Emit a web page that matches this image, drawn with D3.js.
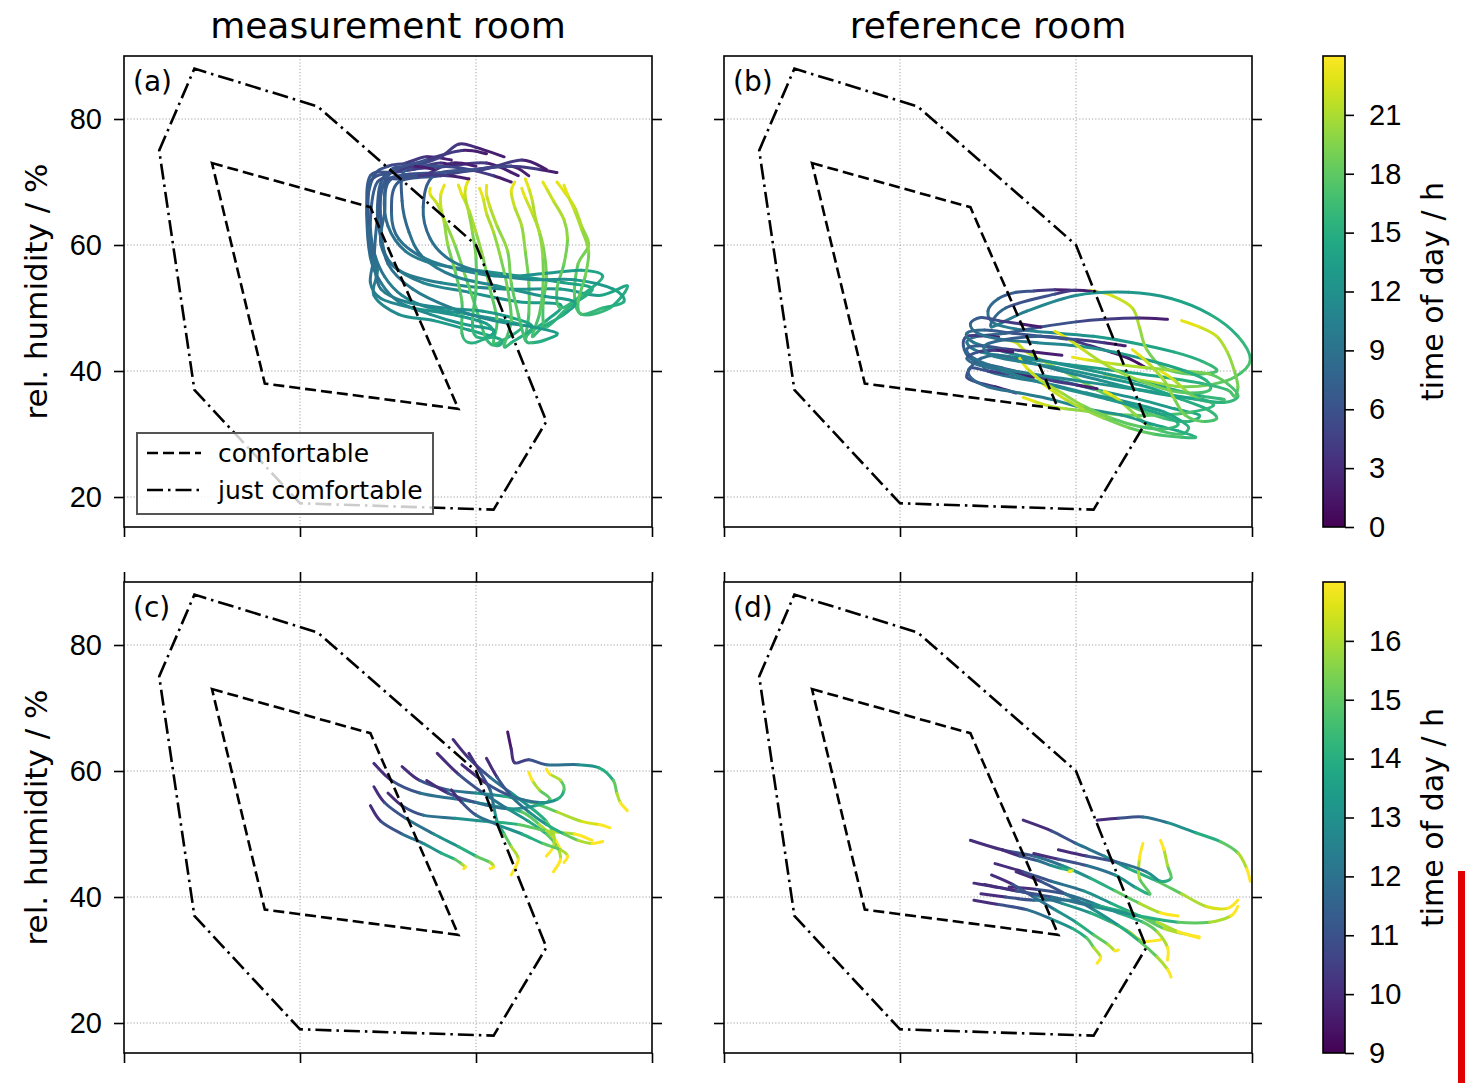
<!DOCTYPE html>
<html>
<head>
<meta charset="utf-8">
<script src="https://cdn.jsdelivr.net/npm/d3@7"></script>
<style>
  body { margin: 0; background: #fff; }
  svg { font-family: "DejaVu Sans", sans-serif; }
</style>
</head>
<body>
<script>
// ---- data ----
const columnTitles = ['measurement room', 'reference room'];
const panelLabels = ['(a)', '(b)', '(c)', '(d)'];
const xTicks = [15, 20, 25, 30];
const yTicks = [20, 40, 60, 80];
const cbTicksDay = [0, 3, 6, 9, 12, 15, 18, 21];
const cbTicksWork = [9, 10, 11, 12, 13, 14, 15, 16];

// comfort zones: temperature / rel. humidity
const comfortableT = [17.5, 22, 24.5, 19];
const comfortableRH = [73, 66, 34, 38];
const justComfortableT = [16, 17, 20.5, 25, 27, 25.5, 20, 17];
const justComfortableRH = [75, 88, 82, 60, 32, 18, 19, 37];

// daily trajectories [hour, T, RH] - measurement room, whole day
const measurementDays = [
  [[0,26.2,71],[2,25.3,73],[4,24.2,72.5],[5,23.2,72],[6,22.4,71],[7,22.2,66],[8,22.3,61],[9,22.6,57],[10,23.5,54],[11,24.8,52.5],[12,26.2,51],[13,27.4,50.5],[14,27.0,48],[15,26.5,46],[16,26.4,45],[17,26.5,49],[18,26.5,54],[19,26.4,59],[20,26.3,63],[21,26.1,66],[22,26.0,68.5],[23,26.1,70]],
  [[0,27.0,72],[2,26.3,73.5],[4,25.2,72],[5,24.0,71.5],[6,22.6,70.5],[7,22.4,65],[8,22.3,60],[9,22.8,56],[10,24.0,54],[11,25.8,53],[12,27.4,53],[13,28.5,52],[14,29.3,53.5],[15,28.8,50],[16,28.0,49],[17,27.8,52],[18,27.9,57],[19,28.2,60],[20,28.0,63],[21,27.8,66],[22,27.5,68.5],[23,27.3,70]],
  [[0,25.0,72.5],[2,24.3,73],[4,23.5,71],[5,22.8,70.5],[6,22.2,70],[7,22.0,64],[8,22.1,59],[9,22.4,55],[10,22.9,52],[11,23.7,50],[12,24.8,49],[13,25.8,48],[14,26.3,47],[15,25.8,45],[16,25.5,44.5],[17,25.6,48],[18,25.4,53],[19,25.2,58],[20,25.0,62],[21,24.8,65.5],[22,24.6,68],[23,24.5,69.5]],
  [[0,24.3,73.5],[2,23.6,74],[4,23.0,73],[5,22.5,72.5],[6,22.1,71],[7,21.9,66],[8,22.0,60],[9,22.2,56],[10,22.1,52],[11,22.8,49],[12,23.8,48],[13,24.8,46.5],[14,25.7,45],[15,25.6,44],[16,25.3,45],[17,25.0,50],[18,24.7,55],[19,24.4,60],[20,24.1,64],[21,23.9,66.5],[22,23.7,68],[23,23.7,69]],
  [[0,25.8,74],[2,25.0,75.5],[3,24.5,76],[4,24.0,74],[5,23.2,72.5],[6,22.6,72],[7,22.4,68],[8,22.5,63],[9,23.0,59],[10,23.8,57],[11,25.0,56],[12,26.3,55],[13,27.5,54],[14,28.3,53],[15,27.6,50],[16,27.0,47],[17,26.9,50],[18,27.0,55],[19,26.9,60],[20,26.7,64],[21,26.6,67],[22,26.5,69],[23,26.4,70.5]],
  [[0,26.5,71],[2,26.0,72.5],[4,25.0,72],[5,24.0,71],[6,22.8,70],[7,22.6,65],[8,22.8,61],[9,23.5,58],[10,24.6,56],[11,25.8,55],[12,27.0,55.5],[13,28.0,56],[14,28.6,55],[15,28.0,52],[16,27.4,50],[17,27.3,53],[18,27.5,57],[19,27.6,61],[20,27.5,64],[21,27.2,67],[22,27.0,69],[23,26.9,70]],
  [[0,24.6,72],[2,24.0,73],[4,23.2,72],[5,22.7,71.5],[6,22.0,71],[7,21.9,65],[8,22.0,58],[9,22.3,54],[10,22.8,51],[11,23.7,49],[12,24.6,47.5],[13,25.5,46.5],[14,25.2,45],[15,24.8,44.5],[16,24.6,46],[17,24.6,51],[18,24.4,56],[19,24.2,60],[20,24.1,63.5],[21,24.0,66],[22,24.0,68],[23,24.1,69.5]],
  [[0,26.0,70],[2,25.5,71],[4,24.8,72],[5,24.0,72.5],[6,23.0,72],[7,22.9,67],[8,23.1,62],[9,23.5,58],[10,24.4,55],[11,25.6,53.5],[12,26.8,52],[13,27.8,51],[14,27.5,49],[15,26.9,47],[16,26.6,45.5],[17,26.8,49],[18,26.9,53],[19,26.9,58],[20,26.8,62],[21,26.6,65],[22,26.4,67.5],[23,26.3,69]],
  [[0,23.8,72],[2,23.2,72.5],[4,22.6,71.5],[6,22.0,70],[7,21.95,63],[8,22.1,57],[9,22.3,53],[10,23.0,51],[11,24.1,50],[12,25.2,49.5],[13,26.0,48.5],[14,26.6,47],[15,26.0,44.5],[16,25.8,44],[17,26.0,48],[18,25.9,53],[19,25.7,58],[20,25.5,62],[21,25.3,65],[22,25.2,67.5],[23,25.1,69]],
  [[0,25.3,74.5],[2,24.6,75],[4,23.6,73.5],[6,22.5,71],[7,22.2,64],[8,22.1,58],[9,22.0,54],[10,22.3,51.5],[11,23.2,50],[12,24.3,49],[13,25.3,47.5],[14,25.5,45.5],[15,25.0,45.5],[16,24.9,48],[17,25.0,53],[18,25.0,58],[19,24.9,62],[20,24.8,65],[21,24.7,67.5],[22,24.7,69],[23,24.8,70.5]],
  [[0,27.3,71.5],[2,26.8,72],[4,26.0,72.5],[5,25.0,72],[6,23.8,71],[7,23.5,66],[8,23.7,61],[9,24.3,57.5],[10,25.3,55.5],[11,26.6,54.5],[12,27.8,54.5],[13,28.9,53],[14,29.2,51],[15,28.6,50],[16,28.0,49],[17,27.9,51],[18,28.1,55],[19,28.2,59],[20,28.0,62.5],[21,27.8,65.5],[22,27.6,68],[23,27.5,69.5]],
  [[0,24.8,70.5],[2,24.2,71],[4,23.3,71],[6,22.4,70],[7,22.3,63],[8,22.5,57],[9,23.2,53],[10,24.3,50],[11,25.5,48],[12,26.6,47],[13,27.3,46],[14,27.0,45],[15,26.6,44.5],[16,26.4,45],[17,26.2,49],[18,26.0,54],[19,25.9,59],[20,25.6,63],[21,25.4,66],[22,25.3,68],[23,25.3,69.5]]
];

// reference room, whole day
const referenceDays = [
  [[0,25.0,52.8],[2,24.4,52.9],[4,23.8,52.7],[6,23.3,52.5],[7,22.8,51.5],[8,22.5,49.5],[9,22.7,47.5],[10,23.5,46.5],[11,24.5,46],[12,25.5,45.5],[13,26.6,44.5],[14,27.8,43],[15,28.6,41.5],[16,29.0,40],[17,28.3,39.5],[18,27.5,40.5],[19,27.0,43.5],[20,26.8,47],[21,26.6,50],[22,26.0,52],[23,25.4,52.8]],
  [[0,25.6,52.5],[2,25.0,52.8],[4,24.4,52.2],[6,23.0,50],[8,22.6,47],[10,23.6,49.5],[11,25.0,52],[12,26.5,52.5],[13,27.7,51.5],[14,28.8,49],[15,29.6,45.5],[16,29.95,41.7],[17,29.5,39],[18,28.8,37.8],[19,28.0,37.5],[20,27.4,38],[21,26.9,38.5],[22,26.3,39],[23,25.8,39.5]],
  [[0,27.6,48.2],[2,26.8,48.4],[4,25.8,48.2],[5,25.0,47.8],[6,24.0,47],[7,23.0,46],[8,22.2,45.5],[9,21.9,44.5],[10,22.3,43],[11,23.5,42],[12,24.8,41],[13,26.2,40],[14,27.5,39],[15,28.6,38],[16,29.3,37],[17,29.5,36],[18,29.6,37.5],[19,29.5,40],[20,29.3,43],[21,29.0,45.5],[22,28.5,47],[23,28.0,48]],
  [[0,22.8,45.4],[2,22.3,45.6],[4,21.9,45.5],[6,21.8,44],[7,22.0,42],[8,22.6,40.5],[9,23.5,39.5],[10,24.5,38.5],[11,25.6,37],[12,26.8,35.5],[13,27.8,34],[14,28.5,33],[15,28.2,32],[16,27.5,32.5],[17,26.5,34.5],[18,25.6,37],[19,24.8,39.5],[20,24.1,41.5],[21,23.6,43],[22,23.3,44.5],[23,23.0,45]],
  [[0,23.3,36.5],[2,22.7,37.5],[4,22.2,38.2],[5,21.9,39],[6,22.0,40.5],[7,22.3,42],[8,22.8,42.5],[9,23.6,41.5],[10,24.6,40],[11,25.7,38.5],[12,26.8,37],[13,27.8,36],[14,28.6,35.5],[15,28.9,34.5],[16,28.3,33.5],[17,27.4,33],[18,26.4,33],[19,25.5,33.5],[20,24.7,34],[21,24.2,34.5],[22,23.8,35.2],[23,23.5,35.8]],
  [[0,25.6,37.2],[2,25.0,37.8],[4,24.3,38.5],[5,23.6,39.5],[6,22.9,40.5],[7,22.4,41],[8,22.5,40],[9,23.2,39],[10,24.2,38],[11,25.3,36.5],[12,26.5,35],[13,27.5,33.5],[14,28.0,32],[15,28.2,31],[16,28.0,30],[17,27.4,30.5],[18,27.0,31.5],[19,26.7,33],[20,26.4,34.5],[21,26.2,35.5],[22,26.0,36.2],[23,25.8,36.8]],
  [[0,27.0,40.5],[1,26.5,42],[2,26.0,43],[3,25.4,44],[4,24.8,45],[5,24.0,45.5],[6,23.2,46],[7,22.4,46.5],[8,21.9,46],[9,22.1,44.5],[10,23.0,43],[11,24.2,41.5],[12,25.5,40],[13,26.7,38.5],[14,27.8,37],[15,28.6,36],[16,29.2,35.5],[17,29.0,35],[18,28.5,35.5],[19,28.2,36.5],[20,28.0,37.5],[21,27.8,38.5],[22,27.6,39.3],[23,27.4,40]],
  [[0,23.8,39],[2,23.2,39.5],[4,22.5,40],[6,22.0,40.5],[7,22.0,39],[8,22.5,37.5],[9,23.4,36.5],[10,24.3,35.5],[11,25.3,34],[12,26.3,33],[13,27.2,31.5],[14,27.9,30.5],[15,28.4,29.5],[16,28.0,29.5],[17,27.2,30],[18,26.5,31],[19,25.8,32.5],[20,25.2,34],[21,24.7,35.5],[22,24.3,37],[23,24.0,38.2]],
  [[0,24.6,42.5],[2,23.8,43],[4,23.0,43.5],[6,22.3,44],[7,21.9,43.5],[8,22.1,42],[9,22.8,40.5],[10,23.8,39.5],[11,25.0,38.5],[12,26.2,37.5],[13,27.4,36.5],[14,28.4,35.5],[15,29.2,35],[16,29.6,36],[17,29.3,38],[18,28.8,39.5],[19,28.0,40],[20,27.0,40.5],[21,26.0,41.2],[22,25.3,41.8],[23,24.9,42.2]],
  [[0,23.2,43],[2,22.7,43.3],[4,22.2,43],[6,21.9,42],[8,22.2,41],[9,22.9,40],[10,23.8,38.5],[11,24.8,37],[12,25.9,35.5],[13,26.9,34],[14,27.6,32.8],[15,27.9,31.5],[16,27.5,30.8],[17,26.8,31.2],[18,26.0,32.5],[19,25.2,34.5],[20,24.6,36.5],[21,24.0,38.5],[22,23.6,40.5],[23,23.4,42]],
  [[0,24.0,47],[2,23.4,47.5],[4,22.8,48],[6,22.3,48.5],[7,22.0,47.5],[8,22.2,46],[9,22.9,45],[10,23.9,44.5],[11,25.0,44],[12,26.1,43],[13,27.2,41.5],[14,28.1,40],[15,28.7,38.5],[16,28.8,37],[17,28.3,36.5],[18,27.6,37],[19,26.8,38.5],[20,26.0,40.5],[21,25.3,43],[22,24.8,45],[23,24.4,46.3]],
  [[0,26.4,44],[2,25.8,44.5],[4,25.0,45],[6,24.0,45.5],[7,23.0,45],[8,22.4,44],[9,22.6,42.5],[10,23.4,41.5],[11,24.5,40.5],[12,25.8,39],[13,27.0,37.5],[14,28.0,35.5],[15,28.7,34],[16,29.0,32.5],[17,28.6,32],[18,28.1,33],[19,27.8,35.5],[20,27.5,38.5],[21,27.1,41],[22,26.8,42.5],[23,26.6,43.4]]
];

// measurement room, 9 h - 17 h
const measurementWork = [
  [[9,25.9,66.2],[9.5,26.0,63.5],[10,26.1,61.3],[10.5,26.5,61.8],[11,27.0,61.0],[12,27.9,61.0],[13,28.5,60.5],[14,28.9,58.5],[15,29.0,56.5],[16,29.1,55.0],[17,29.3,53.7]],
  [[9,22.1,61.2],[10,22.6,58.5],[11,23.4,56.5],[12,24.5,55.5],[13,25.5,54.5],[14,26.3,53.5],[15,26.8,51.5],[16,27.2,49.5],[17,27.4,47.5]],
  [[9,22.1,57.5],[10,22.4,55],[11,23.0,52.5],[12,23.8,50],[13,24.5,48],[14,25.0,46.5],[15,25.4,45.5],[16,25.5,44.8],[17,25.4,44.5]],
  [[9,22.9,60.7],[10,23.4,58.5],[11,24.2,57],[12,25.0,56.5],[13,25.8,56],[14,26.6,55],[15,27.3,53.5],[16,28.0,52],[16.5,28.5,51.5],[17,28.8,51]],
  [[9,23.9,62.8],[10,24.5,59.5],[11,25.2,56.5],[12,25.9,54],[13,26.5,52],[14,27.0,50],[15,27.3,48],[16,27.4,46],[17,27.2,44]],
  [[9,24.35,65],[10,24.8,62],[11,25.4,59],[12,26.0,56.5],[13,26.6,54],[14,27.0,52],[15,27.2,50],[16,27.2,48],[17,27.0,46.5]],
  [[9,24.8,62.8],[10,25.1,60],[11,25.4,57],[12,25.5,54.5],[13,25.6,52],[14,25.8,50],[15,26.0,48],[16,26.2,46],[17,26.0,43.5]],
  [[9,22.5,56.5],[10,22.9,54.5],[11,23.5,53],[12,24.4,52.5],[13,25.3,52],[14,26.2,51.5],[15,27.0,50.5],[16,27.8,50],[17,28.3,49]],
  [[9,23.6,58.5],[10,24.2,56.5],[11,25.0,55],[12,25.9,54],[13,26.7,54.5],[14,27.1,55.5],[15,26.8,57],[16,26.6,58.5],[17,26.5,59.8]],
  [[9,24.3,57],[10,24.6,55],[11,25.0,53],[12,25.6,51.5],[13,26.3,50],[14,26.9,48.5],[15,27.4,47.5],[16,27.6,46.5],[17,27.5,45.5]],
  [[9,22.0,54.5],[10,22.3,52],[11,22.9,50],[12,23.5,48.5],[13,24.0,47],[14,24.4,46],[15,24.6,45.2],[16,24.7,44.8],[17,24.65,44.5]],
  [[9,24.6,61],[10,25.3,58],[11,26.0,56],[12,26.8,55],[13,27.3,55.5],[14,27.5,57],[15,27.4,58.5],[16,27.1,59.5],[17,27.0,60.3]],
  [[9,25.3,62],[10,25.6,59],[11,26.0,56],[12,26.5,53.5],[13,27.0,51.5],[14,27.5,50],[15,27.9,49],[16,28.3,48.5],[17,28.6,48.8]]
];

// reference room, 9 h - 17 h
const referenceWork = [
  [[9,25.6,52.2],[10,26.2,52.5],[11,26.9,52.7],[12,27.6,51.8],[13,28.4,50.2],[14,29.1,48.8],[15,29.6,47],[16,29.85,44.5],[17,29.95,42.5]],
  [[9,22.0,49],[10,22.9,47.5],[11,23.8,46.5],[12,24.6,45],[13,25.4,43],[14,26.1,41],[15,26.8,39],[16,27.4,37.5],[17,27.9,37]],
  [[9,23.5,52.2],[10,24.3,50.5],[11,25.0,48.5],[12,25.8,46.5],[13,26.5,44.5],[14,27.3,42.5],[15,28.0,40.5],[16,28.7,38.5],[16.5,29.3,38.2],[17,29.6,39.5]],
  [[9,22.1,42.2],[10,22.8,41.5],[11,23.7,40.5],[12,24.6,39],[13,25.4,37.5],[14,26.0,36],[15,26.5,34.5],[16,26.9,33],[17,27.4,33.2]],
  [[9,22.1,39.5],[10,22.8,38.8],[11,23.6,38],[12,24.3,36.5],[13,24.9,35],[14,25.3,33.5],[15,25.5,32],[16,25.7,30.5],[17,25.6,29.5]],
  [[9,22.7,45.3],[10,23.5,44],[11,24.3,42.5],[12,25.2,41],[13,26.0,39],[14,26.8,37],[15,27.5,35],[16,28.2,34],[17,28.5,33.7]],
  [[9,23.8,46.9],[10,24.5,46],[11,25.3,45],[12,26.1,43.5],[13,26.7,41.5],[14,27.1,40.5],[15,26.8,43],[16,26.8,46],[17,26.9,48.5]],
  [[9,24.5,47.5],[10,25.3,46.5],[11,26.2,45.5],[12,27.0,44],[13,27.4,42.5],[14,27.7,43],[15,27.6,45],[16,27.5,47.5],[17,27.4,49]],
  [[9,23.1,41.6],[10,23.9,41.2],[11,24.7,40.5],[12,25.5,39],[13,26.2,37.5],[14,26.9,36],[15,27.3,34.5],[16,27.6,32],[17,27.6,30]],
  [[9,22.3,40.5],[10,23.0,40],[11,23.8,39.5],[12,24.8,39.5],[13,25.7,38.5],[14,26.5,37.5],[15,27.3,36],[16,27.9,34.5],[17,28.5,33.5]],
  [[9,22.4,42],[10,23.3,41],[11,24.3,40],[12,25.5,38.5],[13,26.8,37],[14,27.9,36],[15,28.8,36],[16,29.4,37],[17,29.6,38.5]],
  [[9,23.3,44],[10,24.0,42.5],[11,24.7,40.5],[12,25.5,38],[13,26.2,35.5],[14,26.8,33],[15,27.3,30.5],[16,27.6,28.5],[17,27.7,27.3]],
  [[9,22.6,43.5],[10,23.2,42],[11,23.8,40],[12,24.4,38],[13,25.0,36],[14,25.5,34],[15,25.9,32.5],[16,26.1,31.5],[17,26.2,31.6]],
  [[9,22.9,47.5],[10,23.4,46.5],[11,23.9,45.8],[12,24.3,45],[13,24.6,44.5],[14,24.8,44.3],[15,24.9,44.2],[16,24.85,44.1],[17,24.8,44.0]]
];

// ---- layout ----
const W = 1470, H = 1083;
const pw = 528, ph = 471;
const colX = [124, 724];
const rowY = [56, 582];

const svg = d3.select('body').append('svg')
  .attr('width', W).attr('height', H);

const x = d3.scaleLinear().domain([15, 30]).range([0, pw]);
const y = d3.scaleLinear().domain([15.24, 90]).range([ph, 0]);

const rows = [
  { top: rowY[0], cdom: [0, 24], cticks: cbTicksDay, data: [measurementDays, referenceDays], topTicks: false },
  { top: rowY[1], cdom: [9, 17], cticks: cbTicksWork, data: [measurementWork, referenceWork], topTicks: true }
];

// one cubic piece of a Catmull-Rom curve between p1 and p2
function piece(p0, p1, p2, p3) {
  const c1 = [p1[0] + (p2[0] - p0[0]) / 6, p1[1] + (p2[1] - p0[1]) / 6];
  const c2 = [p2[0] - (p3[0] - p1[0]) / 6, p2[1] - (p3[1] - p1[1]) / 6];
  return `M${p1}C${c1},${c2},${p2}`;
}

columnTitles.forEach((t, i) => {
  svg.append('text')
    .attr('x', colX[i] + pw / 2).attr('y', 38)
    .attr('text-anchor', 'middle')
    .style('font-size', '36px')
    .text(t);
});

const defs = svg.append('defs');

rows.forEach((row, ri) => {
  const color = d3.scaleSequential(d3.interpolateViridis).domain(row.cdom);

  row.data.forEach((days, ci) => {
    const g = svg.append('g').attr('transform', `translate(${colX[ci]},${row.top})`);
    const clipId = `clip${ri}${ci}`;
    defs.append('clipPath').attr('id', clipId)
      .append('rect').attr('width', pw).attr('height', ph);

    // grid
    g.append('g').selectAll('line').data(xTicks.slice(1, -1)).join('line')
      .attr('x1', d => x(d)).attr('x2', d => x(d)).attr('y1', 0).attr('y2', ph)
      .attr('stroke', '#a0a0a0').attr('stroke-width', 1).attr('stroke-dasharray', '1.2,2');
    g.append('g').selectAll('line').data(yTicks).join('line')
      .attr('y1', d => y(d)).attr('y2', d => y(d)).attr('x1', 0).attr('x2', pw)
      .attr('stroke', '#a0a0a0').attr('stroke-width', 1).attr('stroke-dasharray', '1.2,2');

    // trajectories, one curve piece per step coloured by time of day
    const segs = [];
    days.forEach(day => {
      const pts = day.map(d => [x(d[1]), y(d[2])]);
      for (let i = 0; i < day.length - 1; i++) {
        const p0 = pts[Math.max(i - 1, 0)], p3 = pts[Math.min(i + 2, pts.length - 1)];
        segs.push({ d: piece(p0, pts[i], pts[i + 1], p3), h: day[i + 1][0] });
      }
    });
    g.append('g').attr('clip-path', `url(#${clipId})`)
      .selectAll('path').data(segs).join('path')
      .attr('d', d => d.d)
      .attr('fill', 'none')
      .attr('stroke', d => color(d.h))
      .attr('stroke-width', 3)
      .attr('stroke-linecap', 'round');

    // comfort zones
    const line = d3.line().x(d => x(d[0])).y(d => y(d[1]));
    const comf = comfortableT.map((t, i) => [t, comfortableRH[i]]);
    const just = justComfortableT.map((t, i) => [t, justComfortableRH[i]]);
    g.append('path').attr('d', line(comf) + 'Z')
      .attr('fill', 'none').attr('stroke', '#000').attr('stroke-width', 2.6)
      .attr('stroke-dasharray', '11,5');
    g.append('path').attr('d', line(just) + 'Z')
      .attr('fill', 'none').attr('stroke', '#000').attr('stroke-width', 2.6)
      .attr('stroke-dasharray', '16,5,2.5,5');

    // axes
    const styleAxis = sel => {
      sel.selectAll('line').attr('stroke', '#000').attr('stroke-width', 1.6);
      sel.selectAll('path').remove();
      sel.selectAll('text').style('font-size', '29px').attr('fill', '#000');
    };
    g.append('g').call(d3.axisLeft(y).tickValues(yTicks).tickSize(10).tickPadding(12)
      .tickFormat(ci === 0 ? d3.format('d') : () => '')).call(styleAxis);
    g.append('g').attr('transform', `translate(${pw},0)`)
      .call(d3.axisRight(y).tickValues(yTicks).tickSize(10).tickFormat(() => '')).call(styleAxis);
    g.append('g').attr('transform', `translate(0,${ph})`)
      .call(d3.axisBottom(x).tickValues(xTicks).tickSize(10).tickFormat(() => '')).call(styleAxis);
    if (row.topTicks) {
      g.append('g').call(d3.axisTop(x).tickValues(xTicks).tickSize(10).tickFormat(() => '')).call(styleAxis);
    }
    g.append('rect').attr('width', pw).attr('height', ph)
      .attr('fill', 'none').attr('stroke', '#000').attr('stroke-width', 1.6);

    g.append('text').attr('x', 9).attr('y', 35)
      .style('font-size', '28px').text(panelLabels[ri * 2 + ci]);

    // legend in panel (a)
    if (ri === 0 && ci === 0) {
      const lg = g.append('g').attr('transform', 'translate(13,377)');
      lg.append('rect').attr('width', 296).attr('height', 81)
        .attr('fill', '#fff').attr('fill-opacity', 0.8)
        .attr('stroke', '#555').attr('stroke-width', 2);
      const items = [['comfortable', '11,5'], ['just comfortable', '16,5,2.5,5']];
      items.forEach((it, k) => {
        const yy = 20 + k * 37;
        lg.append('line').attr('x1', 10).attr('x2', 64).attr('y1', yy).attr('y2', yy)
          .attr('stroke', '#000').attr('stroke-width', 2.6).attr('stroke-dasharray', it[1]);
        lg.append('text').attr('x', 81).attr('y', yy).attr('dy', '0.35em')
          .style('font-size', '25px').text(it[0]);
      });
    }

    if (ci === 0) {
      svg.append('text')
        .attr('transform', `translate(47,${row.top + ph / 2}) rotate(-90)`)
        .attr('text-anchor', 'middle')
        .style('font-size', '31px')
        .text('rel. humidity / %');
    }
  });

  // colour bar
  const cbX = 1323, cbW = 22;
  const gradId = `grad${ri}`;
  const grad = defs.append('linearGradient').attr('id', gradId)
    .attr('x1', 0).attr('y1', 1).attr('x2', 0).attr('y2', 0);
  d3.range(0, 1.0001, 0.05).forEach(t => {
    grad.append('stop').attr('offset', t).attr('stop-color', d3.interpolateViridis(t));
  });
  const cb = svg.append('g').attr('transform', `translate(${cbX},${row.top})`);
  cb.append('rect').attr('width', cbW).attr('height', ph).attr('fill', `url(#${gradId})`);
  const cs = d3.scaleLinear().domain(row.cdom).range([ph, 0]);
  cb.append('g').attr('transform', `translate(${cbW},0)`)
    .call(d3.axisRight(cs).tickValues(row.cticks).tickSize(9).tickPadding(15))
    .call(sel => {
      sel.select('path').remove();
      sel.selectAll('line').attr('stroke', '#000').attr('stroke-width', 1.6);
      sel.selectAll('text').style('font-size', '29px').attr('fill', '#000');
    });
  cb.append('rect').attr('width', cbW).attr('height', ph)
    .attr('fill', 'none').attr('stroke', '#000').attr('stroke-width', 1.6);
  svg.append('text')
    .attr('transform', `translate(1443,${row.top + ph / 2}) rotate(-90)`)
    .attr('text-anchor', 'middle')
    .style('font-size', '30px')
    .text('time of day / h');
});

// red marker bar at the lower right edge
svg.append('rect').attr('x', 1458).attr('y', 871).attr('width', 7).attr('height', 212)
  .attr('fill', '#e00000');
</script>
</body>
</html>
